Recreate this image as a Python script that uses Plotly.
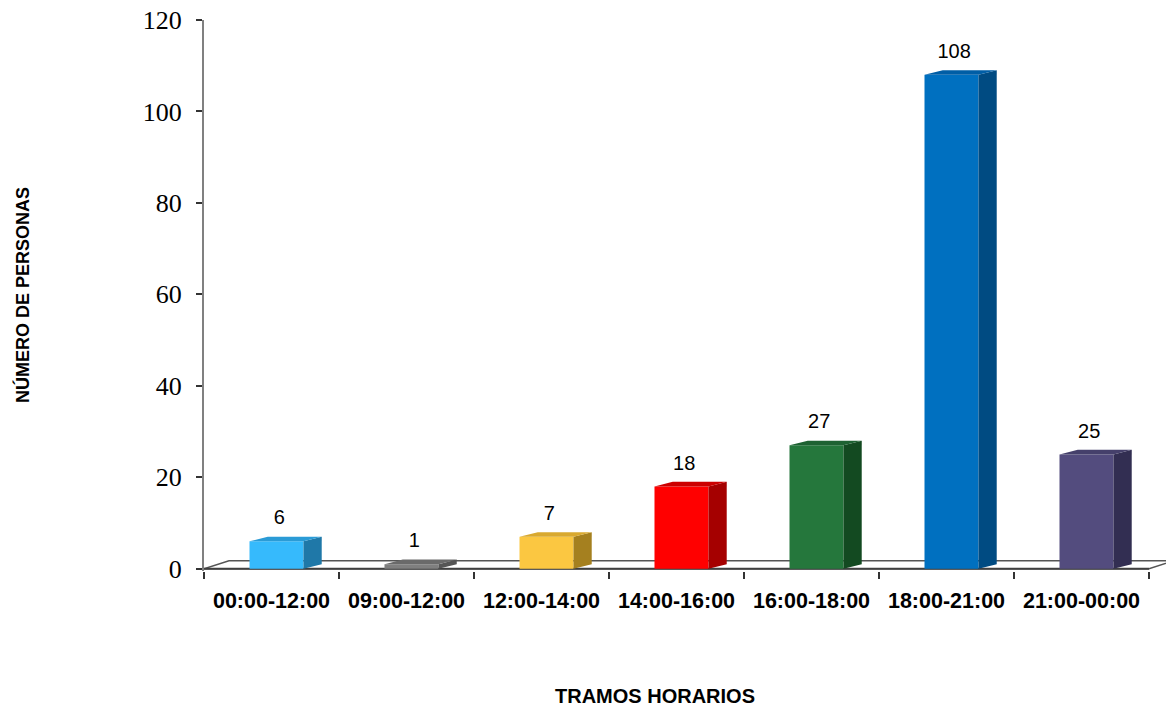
import plotly.graph_objects as go

categories = ["00:00-12:00", "09:00-12:00", "12:00-14:00", "14:00-16:00",
              "16:00-18:00", "18:00-21:00", "21:00-00:00"]
values = [6, 1, 7, 18, 27, 108, 25]
front_colors = ["#36BAFC", "#7F7F7F", "#FBC741", "#FF0000", "#25773C", "#0070C0", "#534C7E"]
top_colors = ["#2A9BD6", "#6A6A6A", "#D9A92F", "#CC0000", "#1E6232", "#005EA6", "#45406B"]
side_colors = ["#1F78A8", "#555555", "#A5801F", "#A50000", "#134A21", "#004B82", "#322E52"]
y_ticks = [0, 20, 40, 60, 80, 100, 120]

BAR_W = 0.4
BAR_SHIFT = 0.037
DX = 0.135   # depth in x (category units)
DY = 1.0     # depth in y (value units)
FLOOR_DX = 0.185
FLOOR_DY = 1.75

fig = go.Figure()

n = len(categories)
# floor
fx = [-0.5, n - 0.5, n - 0.5 + FLOOR_DX, -0.5 + FLOOR_DX, -0.5]
fy = [0, 0, FLOOR_DY, FLOOR_DY, 0]
fig.add_trace(go.Scatter(x=fx, y=fy, mode="lines", fill="toself", fillcolor="white",
                         line=dict(color="#555555", width=1.5), hoverinfo="skip", showlegend=False))
fig.add_trace(go.Scatter(x=[-0.5, n - 0.5], y=[0, 0], mode="lines",
                         line=dict(color="#404040", width=2), hoverinfo="skip", showlegend=False))

for i, v in enumerate(values):
    x0 = i + BAR_SHIFT - BAR_W / 2
    x1 = i + BAR_SHIFT + BAR_W / 2
    # front
    fig.add_trace(go.Scatter(x=[x0, x1, x1, x0, x0], y=[0, 0, v, v, 0], mode="lines",
                             fill="toself", fillcolor=front_colors[i], line=dict(width=0),
                             hoverinfo="skip", showlegend=False))
    # side
    fig.add_trace(go.Scatter(x=[x1, x1 + DX, x1 + DX, x1, x1], y=[0, DY, v + DY, v, 0], mode="lines",
                             fill="toself", fillcolor=side_colors[i], line=dict(width=0),
                             hoverinfo="skip", showlegend=False))
    # top
    fig.add_trace(go.Scatter(x=[x0, x1, x1 + DX, x0 + DX, x0], y=[v, v, v + DY, v + DY, v], mode="lines",
                             fill="toself", fillcolor=top_colors[i], line=dict(width=0),
                             hoverinfo="skip", showlegend=False))

# data labels
fig.add_trace(go.Scatter(x=[i + BAR_SHIFT + 0.02 for i in range(n)], y=[v + DY + 1.6 for v in values],
                         mode="text", text=[str(v) for v in values], textposition="top center",
                         textfont=dict(family="Liberation Sans, Arial", size=20, color="black"),
                         hoverinfo="skip", showlegend=False, cliponaxis=False))

# boundary ticks axis
fig.add_trace(go.Scatter(x=[-0.5], y=[0], xaxis="x2", mode="markers", marker=dict(opacity=0),
                         hoverinfo="skip", showlegend=False))

xr = [-0.5, -0.5 + 970 / 135]
fig.update_layout(
    width=1166, height=700,
    margin=dict(l=196, r=0, t=12, b=137),
    plot_bgcolor="white", paper_bgcolor="white",
    xaxis=dict(range=xr, tickmode="array", tickvals=list(range(n)), ticktext=categories,
               ticks="outside", ticklen=10, tickcolor="rgba(0,0,0,0)", tickangle=0, automargin=False,
               showgrid=False, zeroline=False, showline=False, ticklabeloverflow="allow",
               tickfont=dict(family="Liberation Sans, Arial", size=21.5,
                             color="black", weight="bold")),
    xaxis2=dict(overlaying="x", side="bottom", anchor="y", range=xr, tickmode="array",
                tickvals=[i - 0.5 for i in range(n + 1)], ticktext=[""] * (n + 1),
                ticks="outside", ticklen=7, tickwidth=1.5, tickcolor="#333333", automargin=False,
                showgrid=False, zeroline=False, showline=False),
    yaxis=dict(range=[-0.5, 120], tickmode="array", tickvals=y_ticks, automargin=False,
               ticks="outside", ticklen=6, tickwidth=1.5, tickcolor="#333333",
               showline=True, linecolor="#808080", linewidth=2, ticklabeloverflow="allow",
               ticklabelstandoff=9,
               showgrid=False, zeroline=False,
               tickfont=dict(family="Liberation Serif, Times New Roman", size=26, color="black")),
    annotations=[
        dict(text="NÚMERO DE PERSONAS", xref="paper", yref="paper", x=(22 - 204) / 970, y=(571 - 295) / 551,
             xanchor="center", yanchor="middle", textangle=-90, showarrow=False,
             font=dict(family="Liberation Sans, Arial", size=18, color="black", weight="bold")),
        dict(text="TRAMOS HORARIOS", xref="paper", yref="paper", x=(655 - 204) / 970, y=(571 - 696) / 551,
             xanchor="center", yanchor="middle", showarrow=False,
             font=dict(family="Liberation Sans, Arial", size=20, color="black", weight="bold")),
    ],
)

fig.write_html("out.html")
